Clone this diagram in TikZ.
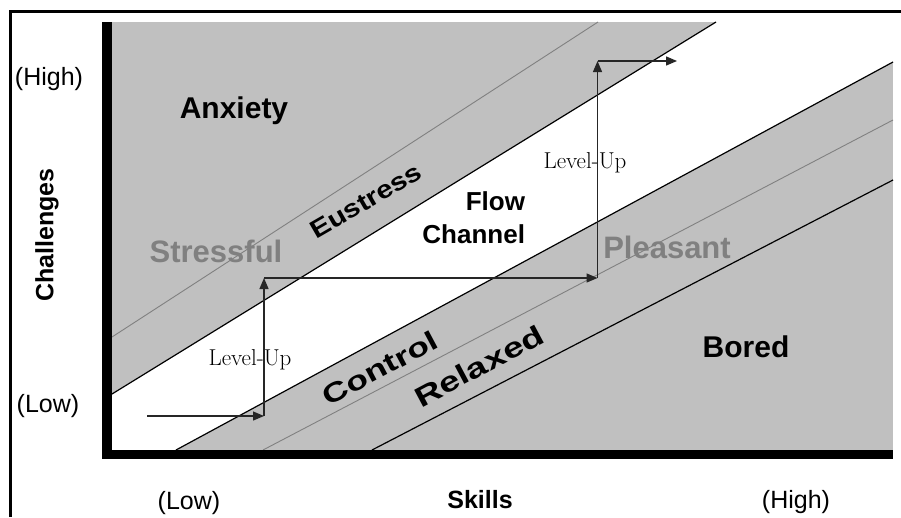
\documentclass[tikz,border=0pt]{standalone}
\usepackage{fontspec}
\newfontfamily\arialf{Liberation Sans}
\usetikzlibrary{arrows.meta}
\definecolor{bandgray}{HTML}{C0C0C0}
\definecolor{txtgray}{HTML}{808080}
\begin{document}
\begin{tikzpicture}[x=1pt,y=-1pt,
  every node/.style={inner sep=0pt, outer sep=0pt},
  boldtxt/.style={font=\arialf\bfseries\fontsize{#1}{#1}\selectfont},
  plaintxt/.style={font=\arialf\fontsize{#1}{#1}\selectfont},
  seriftxt/.style={font=\fontsize{#1}{#1}\selectfont},
  edgeline/.style={line width=1.2pt, black},
  faintline/.style={line width=0.9pt, txtgray},
  arr/.style={line width=1.3pt, black!85, -{Triangle[length=11pt,width=9pt]}},
  axisline/.style={black, line cap=butt}
]
\useasboundingbox (0,0) rectangle (901,517);
\fill[white] (0,0) rectangle (901,517);
% frame
\draw[line width=2.5pt] (10.5,517) -- (10.5,11.3) -- (901,11.3);
% regions
\fill[bandgray] (112,22) rectangle (893,450);
\fill[white] (112,394) -- (716,22) -- (893,22) -- (893,62) -- (176,450) -- (112,450) -- cycle;
% band lines
\draw[faintline] (112,337) -- (598,22);
\draw[faintline] (263,450) -- (893,120);
\draw[edgeline] (112,394) -- (716,22);
\draw[edgeline] (176,450) -- (893,62);
\draw[edgeline] (372,450) -- (893,180);
% axes
\draw[axisline, line width=10pt] (107,22) -- (107,459);
\draw[axisline, line width=9pt] (102,454.5) -- (893,454.5);
% labels
\node[plaintxt=25, anchor=base] (highY) at (49,85) {(High)};
\node[plaintxt=25, anchor=base] (lowY) at (48,412) {(Low)};
\node[boldtxt=25, rotate=90] (chal) at (47,235) {Challenges};
\node[plaintxt=25, anchor=base] (lowX) at (189,509) {(Low)};
\node[boldtxt=25, anchor=base] (skills) at (480,508) {Skills};
\node[plaintxt=25, anchor=base] (highX) at (796,508) {(High)};
\node[boldtxt=30, anchor=base] (anx) at (234,118) {Anxiety};
\node[boldtxt=30, anchor=base] (bored) at (746,357) {Bored};
\node[boldtxt=31, anchor=base, text=txtgray] (pleas) at (667,258) {Pleasant};
\node[boldtxt=31, anchor=base, text=txtgray] (stress) at (216,262) {Stressful};
\node[boldtxt=26, anchor=base east] (flow) at (525,210) {Flow};
\node[boldtxt=26, anchor=base east] (chan) at (525,243) {Channel};
\node[boldtxt=25, rotate=30] (eus) at (366,201) {\scalebox{1.18}[1]{Eustress}};
\node[boldtxt=27, rotate=28] (ctrl) at (380,368) {\scalebox{1.32}[1]{Control}};
\node[boldtxt=28, rotate=28] (relax) at (479,366) {\scalebox{1.32}[1]{Relaxed}};
\node[seriftxt=23, anchor=base] (lvlA) at (250,365) {Level-Up};
\node[seriftxt=23, anchor=base] (lvlB) at (585,168) {Level-Up};
% staircase arrows
\coordinate (p0) at (147,416);
\coordinate (p1) at (264,416);
\coordinate (p2) at (264,278);
\coordinate (p3) at (597.5,278);
\coordinate (p4) at (597.5,61);
\coordinate (p5) at (677,61);
\draw[arr] (p0) -- (p1);
\draw[arr] (p1) -- (p2);
\draw[arr] (p2) -- (p3);
\draw[arr] (p3) -- (p4);
\draw[arr] (p4) -- (p5);
\end{tikzpicture}
\end{document}
